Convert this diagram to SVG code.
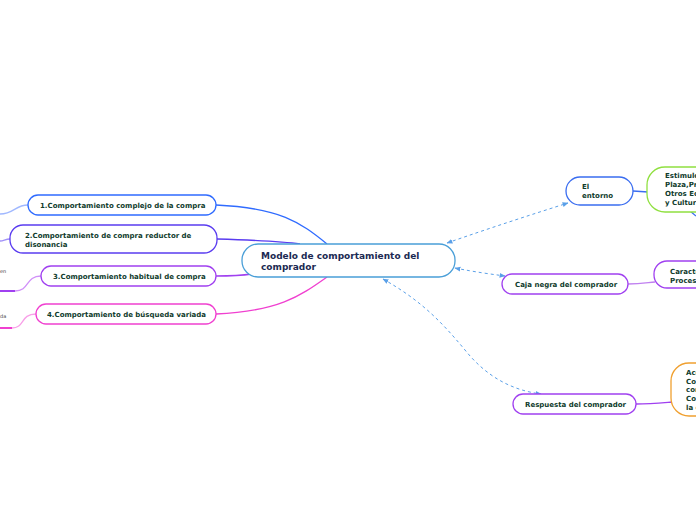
<svg xmlns="http://www.w3.org/2000/svg" width="696" height="520" viewBox="0 0 696 520">
<defs>
<style>
.t{font-family:"DejaVu Sans","Liberation Sans",sans-serif;font-weight:bold;font-size:7px;fill:#0f3b2c}
.tc{font-family:"DejaVu Sans","Liberation Sans",sans-serif;font-weight:bold;font-size:9px;fill:#1b2a52}
.ts{font-family:"DejaVu Sans","Liberation Sans",sans-serif;font-size:5px;fill:#444}
.n{fill:#ffffff;stroke-width:1.3}
.d{fill:none;stroke:#5aa0e8;stroke-width:1;stroke-dasharray:3,3;marker-start:url(#ah);marker-end:url(#ah)}
.c{fill:none;stroke-width:1.3}
</style>
<marker id="ah" viewBox="0 0 10 10" refX="9" refY="5" markerWidth="6" markerHeight="6" orient="auto-start-reverse" markerUnits="userSpaceOnUse">
<path d="M0,1 L10,5 L0,9 Z" fill="#5aa0e8"/>
</marker>
</defs>
<rect width="696" height="520" fill="#ffffff"/>
<g id="connectors">
<path class="c" d="M216,205 C280,208 300,222 327,244" stroke="#2f6bff"/>
<path class="c" d="M217,239 C250,240 280,241 300,244" stroke="#5a3cf0"/>
<path class="c" d="M216,276 C235,276 245,275 252,274" stroke="#a040f0"/>
<path class="c" d="M216,314 C280,311 300,296 327,277" stroke="#f040d0"/>
<path class="c" d="M28,205 C15,205 14,214 0,214" stroke="#a0b8ff"/>
<path class="c" d="M10,239 C5,239 4,241 0,241" stroke="#a090f8"/>
<path class="c" d="M41,276 C25,276 30,291 15,291" stroke="#d090f8"/>
<path d="M0,291 L15,291" stroke="#a040f0" stroke-width="2"/>
<path class="c" d="M36,314 C20,314 25,328 12,328" stroke="#f8a0e8"/>
<path d="M0,328 L12,328" stroke="#f040d0" stroke-width="2"/>
<path class="c" d="M633,191 L648,192" stroke="#3a6df0"/>
<path class="c" d="M690,211 L696,216" stroke="#3a6df0"/>
<path class="c" d="M628,284 C640,284 645,283 655,282" stroke="#c080f0"/>
<path class="c" d="M636,404 C650,404 660,403 672,402" stroke="#a040f0"/>
<path class="d" d="M447,243 C490,228 530,215 568,203"/>
<path class="d" d="M455,268 C475,272 490,274 505,276"/>
<path class="d" d="M383,279 C420,300 440,320 465,350 C485,375 510,390 541,394"/>
</g>
<g id="center">
<rect class="n" x="242" y="244" width="213" height="33" rx="16" stroke="#4a9fd8" fill="#fbfdff"/>
<text class="tc" x="261" y="259">Modelo de comportamiento del</text>
<text class="tc" x="261" y="270">comprador</text>
</g>
<g id="n1">
<rect class="n" x="28" y="195" width="188" height="20" rx="10" stroke="#2f6bff"/>
<text class="t" x="40" y="208">1.Comportamiento complejo de la compra</text>
</g>
<g id="n2">
<rect class="n" x="10" y="225" width="207" height="28" rx="13" stroke="#5a3cf0"/>
<text class="t" x="25" y="238">2.Comportamiento de compra reductor de</text>
<text class="t" x="25" y="247">disonancia</text>
</g>
<g id="n3">
<rect class="n" x="41" y="266" width="175" height="20" rx="10" stroke="#a040f0"/>
<text class="t" x="53" y="279">3.Comportamiento habitual de compra</text>
</g>
<g id="n4">
<rect class="n" x="36" y="304" width="180" height="20" rx="10" stroke="#f040d0"/>
<text class="t" x="47" y="317">4.Comportamiento de búsqueda variada</text>
</g>
<g id="n3child">
<text class="ts" x="0" y="273" text-anchor="start">en</text>
</g>
<g id="n4child">
<text class="ts" x="0" y="318">da</text>
</g>
<g id="entorno">
<rect class="n" x="566" y="177" width="67" height="28" rx="14" stroke="#3a6df0"/>
<text class="t" x="582" y="189">El</text>
<text class="t" x="582" y="198">entorno</text>
</g>
<g id="estimulos">
<rect class="n" x="647" y="167" width="80" height="45" rx="18" stroke="#90e040"/>
<text class="t" x="665" y="178">Estimulos de Marketing: Producto, Precio,</text>
<text class="t" x="665" y="187">Plaza,Promoción.</text>
<text class="t" x="665" y="196">Otros Económicos, Tecnológicos, Políticos</text>
<text class="t" x="665" y="205">y Culturales</text>
</g>
<g id="caja">
<rect class="n" x="502" y="274" width="126" height="20" rx="10" stroke="#a040f0"/>
<text class="t" x="515" y="287">Caja negra del comprador</text>
</g>
<g id="caracteristicas">
<rect class="n" x="654" y="261" width="70" height="27" rx="13" stroke="#a040f0"/>
<text class="t" x="670" y="274">Características del comprador</text>
<text class="t" x="670" y="283">Proceso de decisión del comprador</text>
</g>
<g id="respuesta">
<rect class="n" x="513" y="394" width="123" height="20" rx="10" stroke="#a040f0"/>
<text class="t" x="525" y="407">Respuesta del comprador</text>
</g>
<g id="acciones">
<rect class="n" x="671" y="363" width="60" height="53" rx="18" stroke="#f0a030"/>
<text class="t" x="686" y="375">Acciones del comprador:</text>
<text class="t" x="686" y="384">Compra del producto,</text>
<text class="t" x="686" y="392">compra de marca,</text>
<text class="t" x="686" y="401">Compra del distribuidor,</text>
<text class="t" x="686" y="410">la cantidad de compra</text>
</g>
</svg>
